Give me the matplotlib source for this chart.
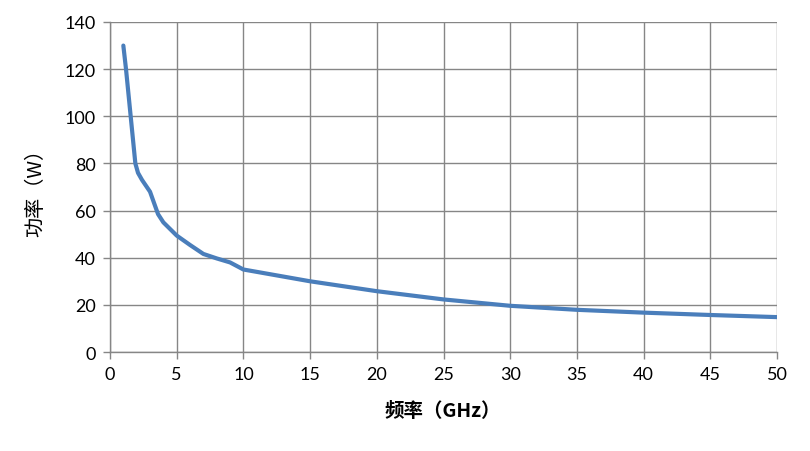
import matplotlib
matplotlib.use("Agg")
import matplotlib.pyplot as plt

freq = [1, 1.2, 1.55, 1.9, 2.1, 2.4, 3, 3.6, 4, 5, 6, 7, 8, 9, 10, 12.5, 15, 20, 25, 30, 35, 40, 45, 50]
power = [130, 120, 100, 80, 76, 73, 68, 58.5, 55, 49.4, 45.4, 41.6, 39.7, 38, 35, 32.5, 30, 25.8, 22.3, 19.6, 17.9, 16.7, 15.7, 14.8]

xticks = [0, 5, 10, 15, 20, 25, 30, 35, 40, 45, 50]
yticks = [0, 20, 40, 60, 80, 100, 120, 140]

grid_c = "#868686"

fig = plt.figure(figsize=(8.1, 4.52), dpi=100)
ax = fig.add_axes([110/810, 1-353/452, (777-110)/810, (353-23)/452])

ax.plot(freq, power, color="#4A7EBB", lw=3.0, solid_joinstyle="round", solid_capstyle="round", zorder=3)

ax.set_xlim(0, 50)
ax.set_ylim(0, 140)
ax.set_xticks(xticks)
ax.set_yticks(yticks)
ax.grid(True, color=grid_c, lw=1.0)
ax.set_axisbelow(True)
for s in ["top", "right"]:
    ax.spines[s].set_visible(False)
for s in ["left", "bottom"]:
    ax.spines[s].set_color(grid_c)
    ax.spines[s].set_linewidth(1.0)
ax.tick_params(axis="both", direction="out", length=5, width=1.0, color=grid_c,
               labelsize=13, pad=5, labelcolor="#000000")
for lab in ax.get_xticklabels() + ax.get_yticklabels():
    lab.set_fontfamily(["Lato", "DejaVu Sans"])

fig.text(443/810, 1-412/452, "频率（GHz）", ha="center", va="center", fontsize=14,
         fontweight="bold", family=["Noto Sans CJK SC", "DejaVu Sans"])
fig.text(36/810, 1-188/452, "功率（W）", ha="center", va="center", fontsize=14.5,
         rotation=90, family=["Noto Sans CJK SC", "DejaVu Sans"])

fig.savefig("out.png", dpi=100)
